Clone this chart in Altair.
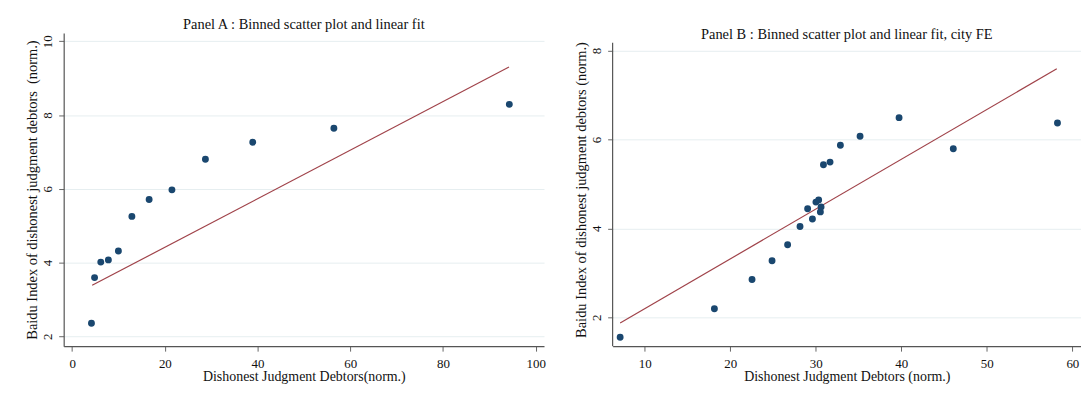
import altair as alt
import pandas as pd

# Panel A: binned scatter
a_x = [4.17, 4.84, 6.18, 7.82, 9.98, 12.89, 16.61, 21.53, 28.75, 38.96, 56.46, 94.30]
a_y = [2.35, 3.59, 4.01, 4.07, 4.31, 5.25, 5.71, 5.97, 6.80, 7.26, 7.64, 8.29]
a_fit_x = [4.32, 94.23]
a_fit_y = [3.38, 9.30]

# Panel B: binned scatter, city FE
b_x = [7.13, 18.15, 22.55, 24.89, 26.71, 28.16, 29.61, 29.05, 30.02, 30.34,
       30.54, 30.62, 30.90, 31.67, 32.88, 35.18, 39.74, 46.08, 58.26]
b_y = [1.55, 2.19, 2.85, 3.27, 3.63, 4.04, 4.21, 4.44, 4.59, 4.64,
       4.37, 4.48, 5.43, 5.49, 5.87, 6.07, 6.49, 5.79, 6.37]
b_fit_x = [7.13, 58.18]
b_fit_y = [1.87, 7.59]

a_xticks = [0, 20, 40, 60, 80, 100]
a_yticks = [2, 4, 6, 8, 10]
b_xticks = [10, 20, 30, 40, 50, 60]
b_yticks = [2, 4, 6, 8]

# axis ranges (data units)
a_xrange = [-1.82, 101.78]
a_yrange = [1.73, 10.227]
b_xrange = [6.25, 61.01]
b_yrange = [1.35, 8.172]

title_a = "Panel A : Binned scatter plot and linear fit"
title_b = "Panel B : Binned scatter plot and linear fit, city FE"
xtitle_a = "Dishonest Judgment Debtors(norm.)"
xtitle_b = "Dishonest Judgment Debtors (norm.)"
ytitle_a = "Baidu Index of dishonest judgment debtors \u00a0(norm.)"
ytitle_b = "Baidu Index of dishonest judgment debtors (norm.)"

NAVY = "#1a476f"
MAROON = "#a0434a"
AXIS = "#555555"
FONT = "Liberation Serif"
TXT = "#111111"


def panel(xs, ys, fx, fy, xdom, ydom, ytop, xt, yt, xtitle, ytitle, w, h,
          tparams, own_domain):
    pts = pd.DataFrame({"x": xs, "y": ys})
    fit = pd.DataFrame({"x": fx, "y": fy})
    xs_ = alt.Scale(domain=xdom, nice=False, zero=False)
    ys_ = alt.Scale(domain=[ydom[0], ytop], nice=False, zero=False)
    xax = alt.Axis(values=xt, title=xtitle, grid=False, format="d")
    yax = alt.Axis(values=yt, title=ytitle, grid=True, format="d",
                   labelAngle=270, labelAlign="center", labelBaseline="bottom",
                   domain=not own_domain)
    line = alt.Chart(fit).mark_line(color=MAROON, strokeWidth=1.2).encode(
        x=alt.X("x:Q", scale=xs_, axis=xax),
        y=alt.Y("y:Q", scale=ys_, axis=yax),
    )
    dots = alt.Chart(pts).mark_circle(color=NAVY, opacity=1, size=48).encode(
        x=alt.X("x:Q", scale=xs_, axis=xax),
        y=alt.Y("y:Q", scale=ys_, axis=yax),
    )
    layers = [line, dots]
    if own_domain:
        dom = pd.DataFrame({"x": [xdom[0]], "y": [ydom[0]], "y2": [ydom[1]]})
        rule = alt.Chart(dom).mark_rule(color=AXIS, strokeWidth=1.2).encode(
            x=alt.X("x:Q", scale=xs_, axis=xax),
            y=alt.Y("y:Q", scale=ys_, axis=yax),
            y2="y2:Q",
        )
        layers.append(rule)
    return alt.layer(*layers).properties(
        width=w, height=h, title=alt.TitleParams(**tparams)
    )


pa = panel(a_x, a_y, a_fit_x, a_fit_y, a_xrange, a_yrange, a_yrange[1],
           a_xticks, a_yticks, xtitle_a, ytitle_a, 483, 315,
           dict(text=title_a, offset=0), False)
# panel B sits 10px lower inside a 315px-tall cell
pb = panel(b_x, b_y, b_fit_x, b_fit_y, b_xrange, b_yrange, b_yrange[1] + 10 / 44.72,
           b_xticks, b_yticks, xtitle_b, ytitle_b, 471, 315,
           dict(text=title_b, offset=0, dy=10), True)

chart = alt.hconcat(pa, pb, spacing=28).properties(
    padding={"left": 17, "top": 8, "right": 0, "bottom": 0}
).configure_view(stroke=None).configure_title(
    font=FONT, fontSize=14.5, fontWeight="normal", color=TXT, anchor="middle"
).configure_axis(
    labelFont=FONT, titleFont=FONT, labelFontSize=13, titleFontSize=14,
    titleFontWeight="normal", labelColor=TXT, titleColor=TXT,
    domainColor=AXIS, tickColor="#666666", tickSize=5, domainWidth=1.2,
    gridColor="#e6eef0", gridWidth=1, labelPadding=4, titlePadding=2,
).configure_axisX(labelPadding=6, titlePadding=0).configure_axisY(titleFontSize=14.5)

chart.save("out.html", embed_options={"renderer": "svg", "actions": False})
